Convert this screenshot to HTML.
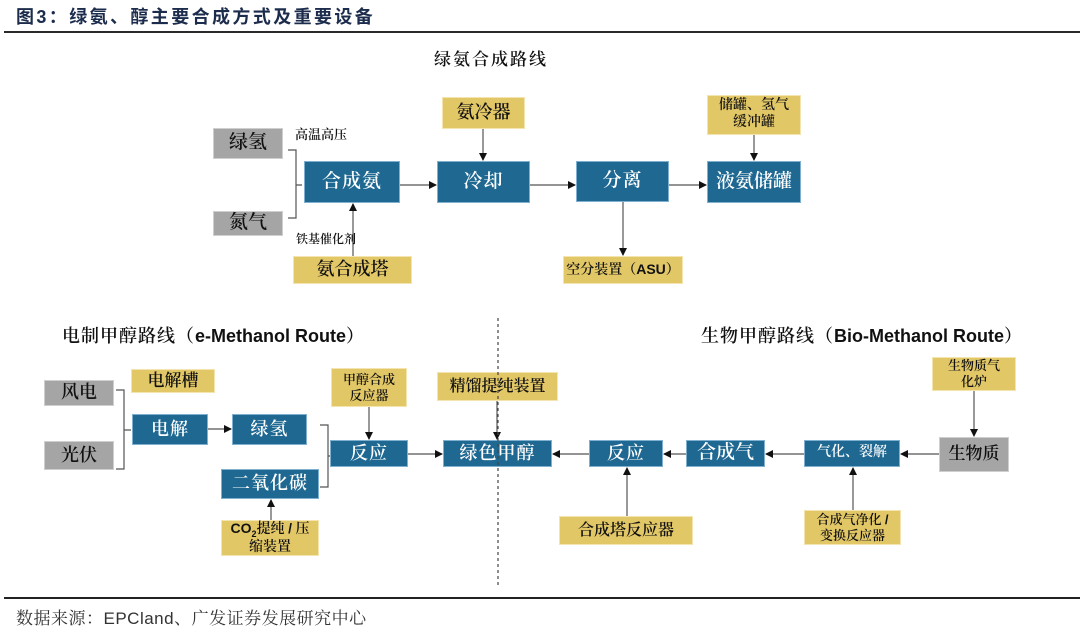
<!DOCTYPE html>
<html><head><meta charset="utf-8">
<style>
html,body{margin:0;padding:0;background:#fff;}
#c{position:relative;width:1080px;height:633px;overflow:hidden;background:#fff;font-family:"Liberation Serif","Noto Serif CJK SC",serif;}
.b{position:absolute;display:flex;align-items:center;justify-content:center;text-align:center;box-sizing:border-box;line-height:1.2;font-weight:600;}
.b>span{display:block;}
.bl{background:#1e6892;color:#fff;border:1px solid #7fb0cf;}
.ye{background:#e2c767;color:#111;border:1px solid #f3e4b0;}
.gr{background:#a5a5a5;color:#111;border:1px solid #cfcfcf;}
.t{position:absolute;white-space:nowrap;color:#111;}
.sans{font-family:"Liberation Sans",sans-serif;font-weight:bold;display:inline !important;}
svg{position:absolute;left:0;top:0;}
</style></head><body>
<div id="c">
<div class="t" style="left:16px;top:3px;font-size:18px;font-weight:bold;letter-spacing:2.4px;color:#1c2c4c;font-family:'Liberation Sans','Noto Sans CJK SC',sans-serif;">图3：绿氨、醇主要合成方式及重要设备</div>
<div style="position:absolute;left:4px;top:31px;width:1076px;height:2px;background:#2a2a2a;"></div>

<div class="t" style="left:434px;top:45px;font-size:17px;letter-spacing:2px;font-weight:600;">绿氨合成路线</div>

<svg width="1080" height="633" viewBox="0 0 1080 633">
<defs>
<marker id="a" markerWidth="8" markerHeight="8" refX="7" refY="4" orient="auto" markerUnits="userSpaceOnUse">
<path d="M0,0 L8,4 L0,8 z" fill="#111"/></marker>
</defs>
<g stroke="#555" stroke-width="1.2" fill="none">
<path d="M288,150 H296 V218 H288 M296,185 H302"/>
<path d="M116,390 H124 V469 H116 M124,430 H131"/>
<path d="M320,425 H328 V487 H320 M328,456 H331"/>
<path d="M400,185 H436" marker-end="url(#a)"/>
<path d="M530,185 H575" marker-end="url(#a)"/>
<path d="M669,185 H706" marker-end="url(#a)"/>
<path d="M483,129 V160" marker-end="url(#a)"/>
<path d="M754,135 V160" marker-end="url(#a)"/>
<path d="M623,202 V255" marker-end="url(#a)"/>
<path d="M353,256 V204" marker-end="url(#a)"/>
<path d="M208,429 H231" marker-end="url(#a)"/>
<path d="M369,407 V439" marker-end="url(#a)"/>
<path d="M271,520 V500" marker-end="url(#a)"/>
<path d="M408,454 H442" marker-end="url(#a)"/>
<path d="M497,401 V439" marker-end="url(#a)"/>
<path d="M589,454 H553" marker-end="url(#a)"/>
<path d="M686,454 H664" marker-end="url(#a)"/>
<path d="M804,454 H766" marker-end="url(#a)"/>
<path d="M939,454 H901" marker-end="url(#a)"/>
<path d="M627,516 V468" marker-end="url(#a)"/>
<path d="M853,510 V468" marker-end="url(#a)"/>
<path d="M974,391 V436" marker-end="url(#a)"/>
</g>
</svg>

<!-- top diagram -->
<div class="b gr" style="left:213px;top:128px;width:70px;height:31px;font-size:19px;"><span>绿氢</span></div>
<div class="b gr" style="left:213px;top:211px;width:70px;height:25px;font-size:19px;"><span>氮气</span></div>
<div class="t" style="left:295px;top:124px;font-size:13px;font-weight:600;">高温高压</div>
<div class="t" style="left:296px;top:230px;font-size:12px;font-weight:600;">铁基催化剂</div>
<div class="b bl" style="left:304px;top:161px;width:96px;height:42px;font-size:19px;letter-spacing:1px;"><span>合成氨</span></div>
<div class="b bl" style="left:437px;top:161px;width:93px;height:42px;font-size:19px;letter-spacing:1px;"><span>冷却</span></div>
<div class="b bl" style="left:576px;top:161px;width:93px;height:41px;font-size:19px;letter-spacing:1px;"><span>分离</span></div>
<div class="b bl" style="left:707px;top:161px;width:94px;height:42px;font-size:19px;"><span>液氨储罐</span></div>
<div class="b ye" style="left:442px;top:97px;width:83px;height:32px;font-size:18px;"><span>氨冷器</span></div>
<div class="b ye" style="left:707px;top:95px;width:94px;height:40px;font-size:14px;"><span>储罐、氢气<br>缓冲罐</span></div>
<div class="b ye" style="left:563px;top:256px;width:120px;height:28px;font-size:14px;white-space:nowrap;"><span>空分装置（<span class="sans">ASU</span>）</span></div>
<div class="b ye" style="left:293px;top:256px;width:119px;height:28px;font-size:18px;"><span>氨合成塔</span></div>

<!-- section titles -->
<div class="t" style="left:62px;top:322px;font-size:18px;font-weight:600;letter-spacing:1px;">电制甲醇路线（<span class="sans" style="letter-spacing:0;">e-Methanol Route</span>）</div>
<div class="t" style="left:701px;top:322px;font-size:18px;font-weight:600;letter-spacing:1px;">生物甲醇路线（<span class="sans" style="letter-spacing:0;">Bio-Methanol Route</span>）</div>

<!-- bottom left -->
<div class="b gr" style="left:44px;top:380px;width:70px;height:26px;font-size:18px;"><span>风电</span></div>
<div class="b gr" style="left:44px;top:441px;width:70px;height:29px;font-size:18px;"><span>光伏</span></div>
<div class="b ye" style="left:131px;top:369px;width:84px;height:24px;font-size:17px;"><span>电解槽</span></div>
<div class="b bl" style="left:132px;top:414px;width:76px;height:31px;font-size:18px;letter-spacing:1px;"><span>电解</span></div>
<div class="b bl" style="left:232px;top:414px;width:75px;height:31px;font-size:18px;letter-spacing:1px;"><span>绿氢</span></div>
<div class="b bl" style="left:221px;top:469px;width:98px;height:30px;font-size:18px;letter-spacing:1px;"><span>二氧化碳</span></div>
<div class="b ye" style="left:331px;top:368px;width:76px;height:39px;font-size:13px;"><span>甲醇合成<br>反应器</span></div>
<div class="b bl" style="left:330px;top:440px;width:78px;height:27px;font-size:18px;letter-spacing:1px;"><span>反应</span></div>
<div class="b ye" style="left:221px;top:520px;width:98px;height:36px;font-size:14px;line-height:1.15;"><span><span class="sans">CO<sub style="font-size:9px;">2</sub></span>提纯 <span class="sans">/</span> 压<br>缩装置</span></div>

<!-- middle -->
<div class="b ye" style="left:437px;top:372px;width:121px;height:29px;font-size:16px;"><span>精馏提纯装置</span></div>
<div class="b bl" style="left:443px;top:440px;width:109px;height:27px;font-size:18px;letter-spacing:1px;"><span>绿色甲醇</span></div>

<!-- bottom right -->
<div class="b bl" style="left:589px;top:440px;width:74px;height:27px;font-size:18px;letter-spacing:1px;"><span>反应</span></div>
<div class="b bl" style="left:686px;top:440px;width:79px;height:27px;font-size:19px;"><span>合成气</span></div>
<div class="b bl" style="left:804px;top:440px;width:96px;height:27px;font-size:14px;"><span>气化、裂解</span></div>
<div class="b gr" style="left:939px;top:437px;width:70px;height:35px;font-size:17px;"><span>生物质</span></div>
<div class="b ye" style="left:932px;top:357px;width:84px;height:34px;font-size:13px;"><span>生物质气<br>化炉</span></div>
<div class="b ye" style="left:559px;top:516px;width:134px;height:29px;font-size:16px;"><span>合成塔反应器</span></div>
<div class="b ye" style="left:804px;top:510px;width:97px;height:35px;font-size:13px;"><span>合成气净化 <span class="sans">/</span><br>变换反应器</span></div>

<svg width="1080" height="633" viewBox="0 0 1080 633">
<path d="M498,318 V585" stroke="#444" stroke-width="1.2" stroke-dasharray="3,3" fill="none"/>
</svg>

<div style="position:absolute;left:4px;top:597px;width:1076px;height:2px;background:#222;"></div>
<div class="t" style="left:16px;top:604px;font-size:17px;color:#333;font-family:'Liberation Sans','Noto Serif CJK SC',sans-serif;letter-spacing:0.5px;">数据来源：EPCland、广发证券发展研究中心</div>
</div>
</body></html>
